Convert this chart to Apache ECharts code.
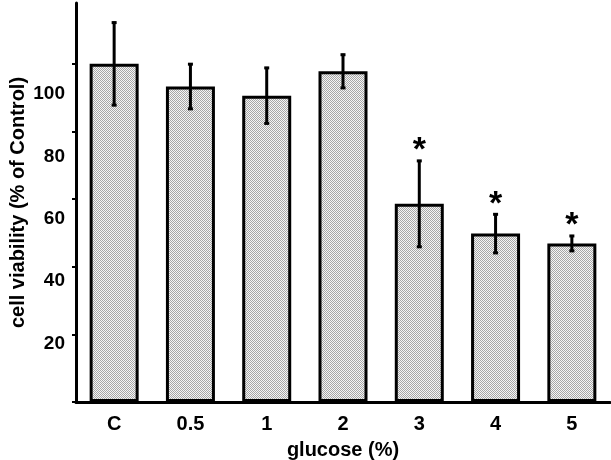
<!DOCTYPE html>
<html><head><meta charset="utf-8">
<script src="https://cdn.jsdelivr.net/npm/echarts@6/dist/echarts.min.js"></script>
<style>html,body{margin:0;padding:0;background:#fff}#c{width:611px;height:460px}</style>
</head><body><div id="c"></div>
<script>
const categories = ['C', '0.5', '1', '2', '3', '4', '5'];
const viability = [100, 93.3, 90.6, 97.8, 58.6, 49.8, 46.9];
const errors = [12.5, 6.9, 8.5, 5.2, 13.0, 6.0, 2.5];
const significant = [false, false, false, false, true, true, true];
const yTickValues = [0, 20, 40, 60, 80, 100];
const yLabelValues = [20, 40, 60, 80, 100];

const pc = document.createElement('canvas'); pc.width = 2; pc.height = 2;
const g = pc.getContext('2d');
g.fillStyle = '#f5f5f5'; g.fillRect(0, 0, 2, 2);
g.fillStyle = '#a6a6a6'; g.fillRect(0, 0, 1, 1); g.fillRect(1, 1, 1, 1);

const font = '"Liberation Sans", Arial, Helvetica, sans-serif';
const chart = echarts.init(document.getElementById('c'), null, {renderer: 'canvas'});
chart.setOption({
  animation: false,
  backgroundColor: '#fff',
  grid: {left: 76, right: 1, top: 3, bottom: 58, containLabel: false, outerBoundsMode: 'none'},
  xAxis: {
    type: 'category', data: categories,
    axisLine: {lineStyle: {color: '#000', width: 3}},
    axisTick: {show: false},
    axisLabel: {color: '#000', fontSize: 20, fontWeight: 'bold', fontFamily: font, margin: 12},
    name: 'glucose (%)', nameLocation: 'middle', nameGap: 38,
    nameTextStyle: {color: '#000', fontSize: 20, fontWeight: 'bold', fontFamily: font}
  },
  yAxis: [{
    type: 'value', min: 0, max: 118,
    axisLine: {show: true, lineStyle: {color: '#000', width: 3}},
    axisTick: {show: true, length: 4, lineStyle: {color: '#000', width: 2}, customValues: yTickValues},
    axisLabel: {show: false},
    splitLine: {show: false},
    name: 'cell viability (% of Control)', nameLocation: 'middle', nameGap: 48,
    nameTextStyle: {color: '#000', fontSize: 20, fontWeight: 'bold', fontFamily: font}
  }, {
    type: 'value', min: 1.2, max: 129.3, position: 'left',
    axisLine: {show: false}, axisTick: {show: false}, splitLine: {show: false},
    axisLabel: {color: '#000', fontSize: 19, fontWeight: 'bold', fontFamily: font, margin: 11, customValues: yLabelValues}
  }],
  series: [{
    type: 'bar', data: viability, barWidth: 49, yAxisIndex: 0,
    itemStyle: {color: {image: pc, repeat: 'repeat'}, borderColor: '#000', borderWidth: 3}
  }, {
    type: 'custom', yAxisIndex: 0, z: 3,
    data: categories.map((c, i) => [i, viability[i], errors[i], significant[i] ? 1 : 0]),
    encode: {x: 0, y: 1},
    renderItem: function (params, api) {
      const i = api.value(0), v = api.value(1), e = api.value(2);
      const top = api.coord([i, v + e]);
      const bot = api.coord([i, v - e]);
      const x = top[0];
      const st = {stroke: '#000', lineWidth: 3};
      const children = [
        {type: 'line', shape: {x1: x, y1: top[1], x2: x, y2: bot[1]}, style: st},
        {type: 'line', shape: {x1: x - 2.5, y1: top[1] + 1, x2: x + 2.5, y2: top[1] + 1}, style: st},
        {type: 'line', shape: {x1: x - 2.5, y1: bot[1] - 1, x2: x + 2.5, y2: bot[1] - 1}, style: st}
      ];
      if (api.value(3)) {
        children.push({type: 'text', style: {text: '*', x: x, y: top[1] - 9, align: 'center', verticalAlign: 'middle',
          fontSize: 34, fontWeight: 'bold', fontFamily: font, fill: '#000'}});
      }
      return {type: 'group', children: children};
    }
  }]
});
</script></body></html>
